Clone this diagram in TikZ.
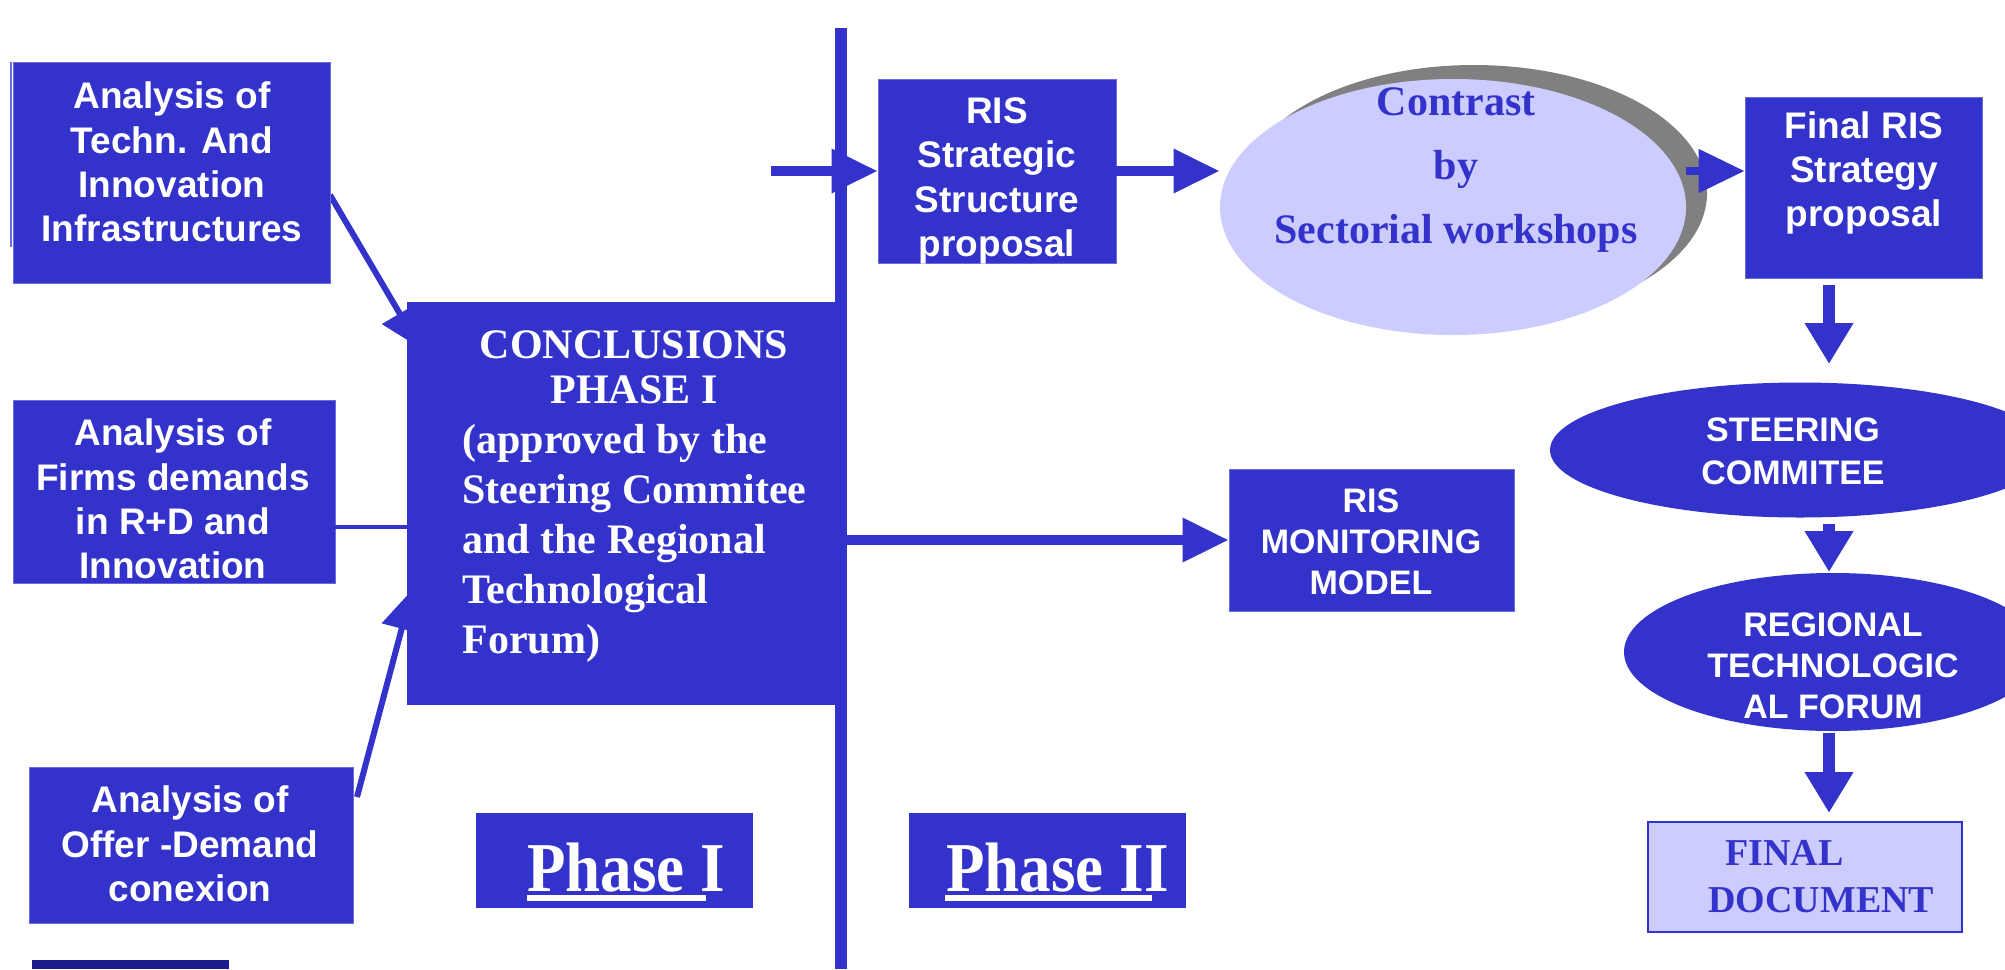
\documentclass[tikz,border=0pt]{standalone}
\usepackage{fontspec}
\setmainfont{Liberation Serif}
\setsansfont{Liberation Sans}
\usetikzlibrary{arrows.meta,shapes.geometric}
\definecolor{rblue}{HTML}{3333CC}
\definecolor{rlav}{HTML}{CCCCFF}
\definecolor{rgrey}{HTML}{808080}
\definecolor{rnavy}{HTML}{1C1C8C}
\definecolor{redge}{HTML}{6B6BDD}
\begin{document}
\begin{tikzpicture}[x=0.5pt,y=-0.5pt,
  bluebox/.style={rectangle, fill=rblue, draw=redge, line width=0.4pt, inner sep=0pt},
  blueell/.style={ellipse, fill=rblue, draw=none, inner sep=0pt},
  sanstext/.style={text=white, font=\sffamily\bfseries\fontsize{18.5}{22.2}\selectfont, align=center, inner sep=0pt},
  capstext/.style={text=white, font=\sffamily\bfseries\fontsize{17}{20.5}\selectfont, align=center, inner sep=0pt},
  sertext/.style={text=white, font=\rmfamily\bfseries\fontsize{21}{25}\selectfont, inner sep=0pt},
  phasetext/.style={text=white, font=\rmfamily\bfseries\fontsize{35}{40}\selectfont, inner sep=0pt, anchor=base west},
  bluetext/.style={text=rblue, font=\rmfamily\bfseries, inner sep=0pt},
  bigarrow/.style={draw=rblue, line width=5pt, -{Triangle[length=23pt,width=21pt]}},
  downarrow/.style={draw=rblue, line width=6pt, -{Triangle[length=20.5pt,width=23pt]}},
  thinarrow/.style={draw=rblue, line width=3pt, -{Triangle[length=20pt,width=20pt]}},
  plainline/.style={draw=rblue, line width=2pt}
]
\useasboundingbox (0,0) rectangle (2005,969);
\clip (0,0) rectangle (2005,969);

% thin stray line at left
\draw[redge, line width=0.6pt] (11,62) -- (11,247);

% navy block at bottom left
\fill[rnavy] (32,960) rectangle (229,969);

% coordinates for connector ends
\coordinate (b1out) at (330,195);
\coordinate (b1in) at (420,348);
\coordinate (b3out) at (357,797);
\coordinate (b3in) at (412,590);
\coordinate (vtop) at (841,28);
\coordinate (vbot) at (841,969);
\coordinate (instart) at (771,171);

% left connectors (drawn first, boxes cover them)
\draw[thinarrow] (b1out) -- (b1in);
\draw[thinarrow] (b3out) -- (b3in);

% left boxes
\node[bluebox, minimum width=158.5pt, minimum height=110.5pt] (b1) at (171.5,172.5) {};
\node[bluebox, minimum width=161pt, minimum height=91.5pt] (b2) at (174,491.5) {};
\node[bluebox, minimum width=162pt, minimum height=78pt] (b3) at (191,845) {};
\node[sanstext] (t1) at (172,162) {Analysis of\\Techn. And\\Innovation\\Infrastructures};
\node[sanstext] (t2) at (173,499) {Analysis of\\Firms demands\\in R+D and\\Innovation};
\node[sanstext] (t3) at (190,844) {Analysis of\\Offer -Demand\\conexion};

% conclusions box
\node[bluebox, draw=none, minimum width=217pt, minimum height=201.5pt] (cc) at (624,503.5) {};
\draw[plainline] (b2.east |- 0,527) -- (cc.west |- 0,527);
\node[sertext, align=center, font=\rmfamily\bfseries\fontsize{21}{22.5}\selectfont] (cch) at (634,367) {CONCLUSIONS\\PHASE I};
\node[sertext, align=left, anchor=west] (ccb) at (462,543) {(approved by the\\Steering Commitee\\and the Regional\\Technological\\Forum)};

% vertical divider
\draw[rblue, line width=6pt] (vtop) -- (vbot);

% phase boxes
\node[bluebox, draw=none, minimum width=138.5pt, minimum height=47.5pt] (p1) at (614.5,860.5) {};
\node[bluebox, draw=none, minimum width=138.5pt, minimum height=47.5pt] (p2) at (1047.5,860.5) {};
\node[phasetext] (p1t) at (527,891) {\scalebox{0.9}[1]{Phase I}};
\node[phasetext] (p2t) at (946,891) {\scalebox{0.9}[1]{Phase II}};
\fill[white] (527,895) rectangle (706,901);
\fill[white] (945,895) rectangle (1152,901);

% RIS strategic structure
\node[bluebox, minimum width=119pt, minimum height=92pt] (rs) at (997,171) {};
\node[sanstext] (rst) at (997,181) {RIS\\Strategic\\Structure\\proposal};
\draw[bigarrow] (instart) -- (rs.west);

% contrast ellipse with shadow
\node[ellipse, fill=rgrey, minimum width=233pt, minimum height=128pt, inner sep=0pt] (cts) at (1474,193) {};
\node[ellipse, fill=rlav, minimum width=233pt, minimum height=128pt, inner sep=0pt] (ct) at (1453,207) {};
\node[bluetext, align=center, font=\rmfamily\bfseries\fontsize{21}{32}\selectfont] (ctt) at (1456,170) {Contrast\\by\\Sectorial workshops};
\draw[bigarrow] (rs.east) -- (rs.east -| ct.west);

% final RIS strategy proposal
\node[bluebox, minimum width=118.5pt, minimum height=90.5pt] (fr) at (1863.5,187.5) {};
\node[sanstext] (frt) at (1864,173) {Final RIS\\Strategy\\proposal};
\draw[bigarrow, line width=4pt] (ct.east |- rs.east) -- (fr.west |- rs.east);

% monitoring model
\node[bluebox, minimum width=142.5pt, minimum height=71pt] (mon) at (1371.5,540) {};
\node[capstext] (mont) at (1371,542) {RIS\\MONITORING\\MODEL};
\draw[bigarrow] (cc.east |- mon.west) -- (mon.west);

% steering committee
\node[blueell, minimum width=250pt, minimum height=67.5pt] (st) at (1800,450) {};
\node[capstext, font=\sffamily\bfseries\fontsize{17}{21.5}\selectfont] (stt) at (1793,451) {STEERING\\COMMITEE};

% regional technological forum
\node[blueell, minimum width=209pt, minimum height=79pt] (rg) at (1833,652) {};
\node[capstext] (rgt) at (1833,666) {REGIONAL\\TECHNOLOGIC\\AL FORUM};

% final document
\node[rectangle, fill=rlav, draw=rblue, line width=1pt, minimum width=157pt, minimum height=55pt, inner sep=0pt] (fd) at (1805,877) {};
\node[bluetext, anchor=west, font=\rmfamily\bfseries\fontsize{19}{22}\selectfont] (fdt1) at (1725,853) {FINAL};
\node[bluetext, anchor=west, font=\rmfamily\bfseries\fontsize{19}{22}\selectfont] (fdt2) at (1708,900) {DOCUMENT};

% vertical arrows on the right
\coordinate (d1s) at (1829,285);
\coordinate (d1e) at (1829,364);
\coordinate (d2s) at (1829,524);
\coordinate (d2e) at (1829,572);
\coordinate (d3s) at (1829,733);
\coordinate (d3e) at (1829,813);
\draw[downarrow] (d1s) -- (d1e);
\draw[downarrow] (d2s) -- (d2e);
\draw[downarrow] (d3s) -- (d3e);
\end{tikzpicture}
\end{document}
